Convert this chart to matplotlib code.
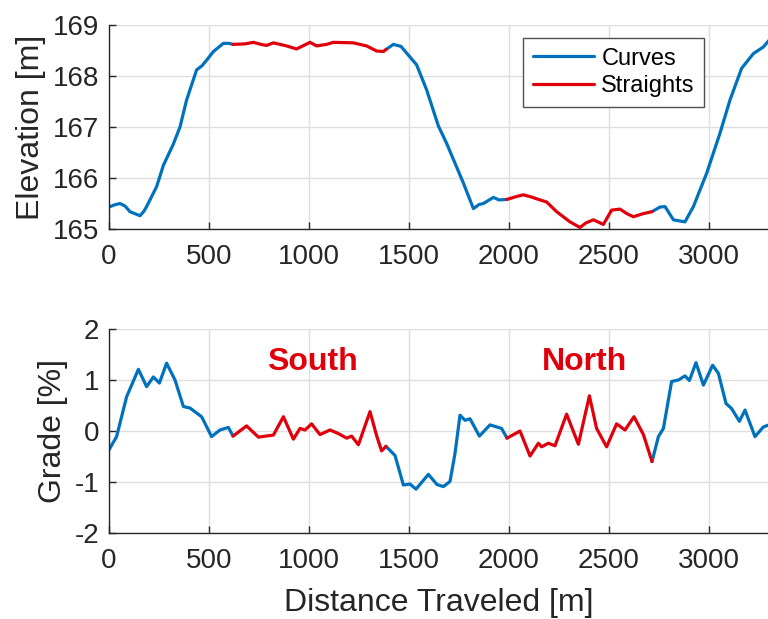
import numpy as np
import matplotlib
matplotlib.use("Agg")
import matplotlib.pyplot as plt

# distance along the track [m] and measured elevation [m]
dist_e = [0, 25, 55, 80, 105, 130, 155, 175, 188, 238, 272, 320, 355, 388, 438, 465,
          488, 522, 572, 600, 620, 680, 722, 760, 788, 822, 888, 938, 1005, 1038, 1088,
          1122, 1222, 1288, 1338, 1372, 1385, 1422, 1460, 1488, 1538, 1588, 1647, 1688,
          1772, 1822, 1850, 1872, 1922, 1950, 1990, 2040, 2072, 2110, 2155, 2188, 2238,
          2305, 2355, 2385, 2422, 2472, 2513, 2555, 2590, 2622, 2670, 2715, 2755, 2780,
          2822, 2880, 2922, 2988, 3055, 3105, 3163, 3222, 3272, 3300]
elev = [165.43, 165.47, 165.50, 165.45, 165.34, 165.30, 165.26, 165.35, 165.44, 165.83,
        166.25, 166.65, 167.00, 167.53, 168.12, 168.20, 168.31, 168.48, 168.64, 168.64,
        168.62, 168.63, 168.66, 168.62, 168.60, 168.65, 168.59, 168.53, 168.66, 168.59,
        168.62, 168.66, 168.65, 168.59, 168.49, 168.48, 168.52, 168.62, 168.58, 168.45,
        168.22, 167.73, 167.02, 166.68, 165.90, 165.40, 165.48, 165.50, 165.62, 165.57,
        165.58, 165.64, 165.67, 165.63, 165.57, 165.53, 165.34, 165.14, 165.03, 165.12,
        165.18, 165.09, 165.37, 165.39, 165.30, 165.24, 165.30, 165.34, 165.43, 165.44,
        165.18, 165.14, 165.44, 166.09, 166.88, 167.53, 168.15, 168.44, 168.57, 168.70]

# road grade [%]
dist_g = [0, 38, 88, 147, 188, 222, 252, 288, 330, 372, 405, 463, 513, 555, 597, 620,
          688, 747, 822, 872, 922, 955, 980, 1013, 1055, 1105, 1147, 1188, 1213, 1247,
          1305, 1338, 1363, 1385, 1430, 1472, 1505, 1535, 1597, 1640, 1672, 1705, 1730,
          1755, 1780, 1805, 1852, 1905, 1963, 1990, 2055, 2105, 2147, 2163, 2197, 2230,
          2288, 2347, 2402, 2438, 2488, 2538, 2580, 2625, 2672, 2715, 2747, 2772, 2813,
          2847, 2880, 2902, 2935, 2972, 3018, 3047, 3085, 3113, 3152, 3180, 3230, 3272, 3300]
grade = [-0.37, -0.11, 0.67, 1.21, 0.87, 1.06, 0.94, 1.33, 1.00, 0.48, 0.45, 0.28, -0.11,
         0.02, 0.07, -0.10, 0.10, -0.12, -0.08, 0.28, -0.16, 0.05, 0.02, 0.14, -0.07, 0.02,
         -0.05, -0.14, -0.10, -0.27, 0.38, -0.09, -0.39, -0.30, -0.48, -1.06, -1.04, -1.14,
         -0.85, -1.05, -1.09, -0.99, -0.44, 0.31, 0.21, 0.24, -0.10, 0.12, 0.05, -0.14, 0.00,
         -0.49, -0.24, -0.31, -0.24, -0.29, 0.33, -0.26, 0.69, 0.05, -0.31, 0.14, 0.02, 0.28,
         -0.07, -0.60, -0.11, 0.05, 0.97, 1.00, 1.08, 0.99, 1.34, 0.90, 1.29, 1.13, 0.54,
         0.44, 0.19, 0.41, -0.11, 0.08, 0.12]

# straight sections of the track (start, end) [m]
straights = [(620, 1385), (1990, 2715)]
straight_names = ["South", "North"]
name_pos = [(1015, 1.36), (2380, 1.36)]

BLUE = "#0072BD"
RED = "#E0000B"
INK = "#262626"

plt.rcParams["font.family"] = ["Liberation Sans", "DejaVu Sans"]
plt.rcParams["axes.unicode_minus"] = False


def split(x, y):
    # boundary points go to both pieces so the line stays continuous
    x = np.asarray(x, float)
    y = np.asarray(y, float)
    inside = np.zeros(len(x), bool)
    onstr = np.zeros(len(x), bool)
    for a, b in straights:
        inside |= (x > a) & (x < b)
        onstr |= (x >= a) & (x <= b)
    return x, np.where(inside, np.nan, y), np.where(onstr, y, np.nan)


def style(ax):
    ax.set_xlim(0, 3300)
    ax.set_xticks(range(0, 3001, 500))
    ax.grid(True, color="#DFDFDF", lw=1)
    ax.set_axisbelow(True)
    for s in ["top", "right"]:
        ax.spines[s].set_visible(False)
    for s in ["left", "bottom"]:
        ax.spines[s].set_color(INK)
        ax.spines[s].set_linewidth(1.0)
    ax.tick_params(direction="in", length=5, width=1, color=INK,
                   labelsize=20, labelcolor=INK)
    ax.tick_params(axis="x", pad=11)
    ax.tick_params(axis="y", pad=7)


fig = plt.figure(figsize=(7.68, 6.19), dpi=100)
ax1 = fig.add_axes([109 / 768, 1 - 229 / 619, 660 / 768, 204 / 619])
ax2 = fig.add_axes([109 / 768, 1 - 533 / 619, 660 / 768, 204 / 619])

line_kw = dict(lw=2.3, solid_joinstyle="round", solid_capstyle="round")

x, yc, ys = split(dist_e, elev)
ax1.plot(x, yc, color=BLUE, label="Curves", **line_kw)
ax1.plot(x, ys, color=RED, label="Straights", **line_kw)
ax1.set_ylim(165, 169)
ax1.set_yticks(range(165, 170))
style(ax1)
ax1.set_ylabel("Elevation [m]", fontsize=23, color=INK, labelpad=5)
leg = ax1.legend(loc="upper right", bbox_to_anchor=(0.902, 0.936), borderaxespad=0,
                 fontsize=17, handlelength=2.6, fancybox=False, framealpha=1,
                 edgecolor="#505050", borderpad=0.4, labelspacing=0.25,
                 handletextpad=0.3)
leg.get_frame().set_linewidth(1.0)

x, yc, ys = split(dist_g, grade)
ax2.plot(x, yc, color=BLUE, **line_kw)
ax2.plot(x, ys, color=RED, **line_kw)
ax2.set_ylim(-2, 2)
ax2.set_yticks(range(-2, 3))
style(ax2)
ax2.set_ylabel("Grade [%]", fontsize=23, color=INK, labelpad=5)
ax2.set_xlabel("Distance Traveled [m]", fontsize=23, color=INK, labelpad=10)
for name, (tx, ty) in zip(straight_names, name_pos):
    ax2.text(tx, ty, name, color=RED, fontsize=23, fontweight="bold",
             ha="center", va="center")

fig.savefig("out.png", dpi=100)
